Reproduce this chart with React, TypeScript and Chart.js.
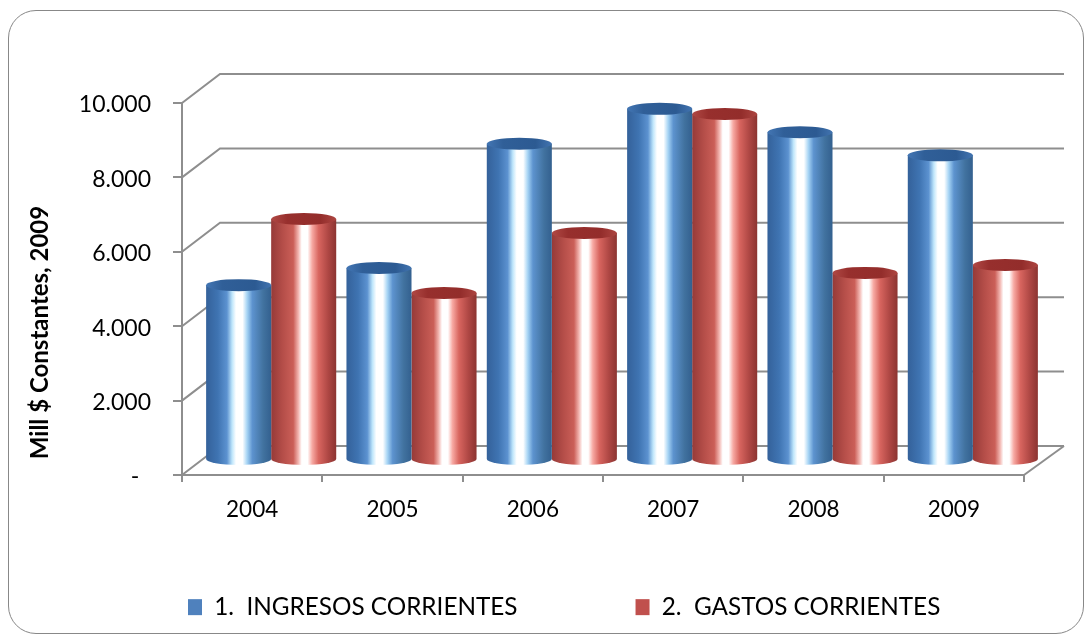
import React, { useEffect, useRef } from "react";
import { Chart, registerables } from "chart.js";

Chart.register(...registerables);

const categories = ["2004", "2005", "2006", "2007", "2008", "2009"];
const ingresos = [4700, 5160, 8500, 9440, 8810, 8190];
const gastos = [6480, 4490, 6100, 9300, 5030, 5240];
const seriesNames = ["1.  INGRESOS CORRIENTES", "2.  GASTOS CORRIENTES"];
const axisTitle = "Mill $ Constantes, 2009";

const FONT = "Lato, Carlito, Calibri, sans-serif";
const DEPTH_X = 38;
const DEPTH_Y = 29;
const BAR_DX = 19;
const BAR_DY = -15;
const RY = 6;
const GREY = "#8e8e8e";

const blueStops: [number, string][] = [
  [0, "#34619a"], [0.18, "#3f74b2"], [0.32, "#5c92d0"], [0.4, "#bfe6fb"], [0.46, "#ffffff"],
  [0.56, "#ffffff"], [0.63, "#a6d4f4"], [0.71, "#5d93cf"], [0.88, "#41729f"], [1, "#33608f"],
];
const redStops: [number, string][] = [
  [0, "#963a38"], [0.18, "#b54e49"], [0.34, "#cb5f58"], [0.42, "#f3b8b3"], [0.47, "#ffffff"],
  [0.56, "#ffffff"], [0.63, "#f7a9a3"], [0.73, "#d8655f"], [0.88, "#ad4643"], [1, "#8c3431"],
];
const stopsFor = [blueStops, redStops];
const capStops: [number, string][][] = [
  [[0, "#4376b4"], [0.25, "#305f98"], [0.75, "#2c5a92"], [1, "#4274b0"]],
  [[0, "#b04945"], [0.25, "#972f2d"], [0.75, "#932d2b"], [1, "#ad4541"]],
];
const legendColors = ["#4F81BD", "#C0504D"];

function makeGradient(ctx: CanvasRenderingContext2D, x0: number, x1: number, stops: [number, string][]) {
  const g = ctx.createLinearGradient(x0, 0, x1, 0);
  stops.forEach(([o, c]) => g.addColorStop(o, c));
  return g;
}

const wallsPlugin = {
  id: "walls",
  beforeDatasetsDraw(chart: any) {
    const { ctx, scales } = chart;
    const y = scales.y;
    const { left, right } = chart.chartArea;
    ctx.save();
    ctx.strokeStyle = GREY;
    ctx.lineWidth = 2;
    y.ticks.forEach((t: any) => {
      const py = y.getPixelForValue(t.value);
      ctx.beginPath();
      ctx.moveTo(left, py);
      ctx.lineTo(left + DEPTH_X, py - DEPTH_Y);
      ctx.lineTo(right + DEPTH_X + 2, py - DEPTH_Y);
      ctx.stroke();
    });
    const by = y.getPixelForValue(0);
    ctx.beginPath();
    ctx.moveTo(right, by);
    ctx.lineTo(right + DEPTH_X + 2, by - DEPTH_Y);
    ctx.stroke();
    ctx.restore();
  },
};

const cylinderPlugin = {
  id: "cylinders",
  beforeDatasetDraw(chart: any, args: any) {
    const { ctx } = chart;
    ctx.save();
    ctx.translate(BAR_DX, BAR_DY);
    chart.getDatasetMeta(args.index).data.forEach((el: any) => {
      const l = el.x - el.width / 2;
      ctx.fillStyle = makeGradient(ctx, l, l + el.width, stopsFor[args.index]);
      ctx.beginPath();
      ctx.ellipse(el.x, el.base, el.width / 2, RY, 0, 0, Math.PI);
      ctx.fill();
    });
  },
  afterDatasetDraw(chart: any, args: any) {
    const { ctx } = chart;
    chart.getDatasetMeta(args.index).data.forEach((el: any) => {
      const l = el.x - el.width / 2;
      ctx.fillStyle = makeGradient(ctx, l, l + el.width, capStops[args.index]);
      ctx.beginPath();
      ctx.ellipse(el.x, el.y, el.width / 2, RY, 0, 0, Math.PI * 2);
      ctx.fill();
    });
    ctx.restore();
  },
};

const placementPlugin = {
  id: "placement",
  afterLayout(chart: any) {
    const lg = chart.legend;
    const pad = lg.options.labels.padding;
    lg.left = 188 - pad;
    lg.right = 3000;
    lg.top = 595 - pad;
    lg.bottom = 644;
  },
  afterDraw(chart: any) {
    const { ctx } = chart;
    ctx.save();
    ctx.translate(40, 332.5);
    ctx.rotate(-Math.PI / 2);
    ctx.font = `bold 24px ${FONT}`;
    ctx.fillStyle = "#000";
    ctx.textAlign = "center";
    ctx.textBaseline = "middle";
    ctx.fillText(axisTitle, 0, 0);
    ctx.restore();
  },
};

export default function App() {
  const ref = useRef<HTMLCanvasElement>(null);
  useEffect(() => {
    const canvas = ref.current!;
    const ctx2d = canvas.getContext("2d")!;
    const barFill = (i: number) => (c: any) => {
      const xs = c.chart.scales.x;
      if (!xs || c.dataIndex === undefined) return legendColors[i];
      const cw = xs.width / categories.length;
      const w = cw * 0.927 / 2;
      const center = xs.getPixelForValue(c.dataIndex);
      const l = center + (i - 1) * w;
      return makeGradient(ctx2d, l, l + w, stopsFor[i]);
    };
    const chart = new Chart(canvas, {
      type: "bar",
      data: {
        labels: categories,
        datasets: [
          { label: seriesNames[0], data: ingresos, backgroundColor: barFill(0), clip: false as any },
          { label: seriesNames[1], data: gastos, backgroundColor: barFill(1), clip: false as any },
        ],
      },
      plugins: [wallsPlugin, cylinderPlugin, placementPlugin],
      options: {
        responsive: false,
        animation: false,
        events: [],
        layout: { padding: { left: 30, right: 67, top: 103, bottom: 0 } },
        datasets: { bar: { barPercentage: 1, categoryPercentage: 0.927, borderWidth: 0 } },
        scales: {
          x: {
            afterFit: (s: any) => { s.height = 169; },
            border: { color: GREY, width: 2 },
            grid: { drawOnChartArea: false, color: GREY, lineWidth: 2, tickLength: 7 },
            ticks: { color: "#000", font: { family: FONT, size: 22.5 }, padding: 14, maxRotation: 0 },
          },
          y: {
            min: 0,
            max: 10000,
            afterFit: (s: any) => { s.width = 152; },
            border: { color: GREY, width: 2 },
            grid: { drawOnChartArea: false, color: GREY, lineWidth: 2, tickLength: 9 },
            ticks: {
              stepSize: 2000,
              color: "#000",
              font: { family: FONT, size: 23 },
              padding: 22,
              labelOffset: 2,
              callback: (v: any) => (v === 0 ? "-  " : String(v).replace(/\B(?=(\d{3})+$)/g, ".")),
            },
          },
        },
        plugins: {
          tooltip: { enabled: false },
          title: { display: false },
          legend: {
            position: "chartArea",
            align: "start",
            labels: {
              boxWidth: 14,
              boxHeight: 16,
              padding: 118,
              color: "#000",
              font: { family: FONT, size: 24.3 },
              generateLabels: () =>
                seriesNames.map((text, i) => ({ text, fillStyle: legendColors[i], strokeStyle: legendColors[i], lineWidth: 0, datasetIndex: i, hidden: false })),
            },
          },
        },
      } as any,
    });
    return () => chart.destroy();
  }, []);
  return (
    <div style={{ position: "fixed", left: 0, top: 0, width: 1091, height: 644, background: "#fff" }}>
      <div style={{ position: "absolute", left: 8, top: 10, width: 1074, height: 622, border: "1.5px solid #888", borderRadius: 28, boxSizing: "content-box" }} />
      <canvas ref={ref} width={1091} height={644} style={{ position: "absolute", left: 0, top: 0 }} />
    </div>
  );
}
